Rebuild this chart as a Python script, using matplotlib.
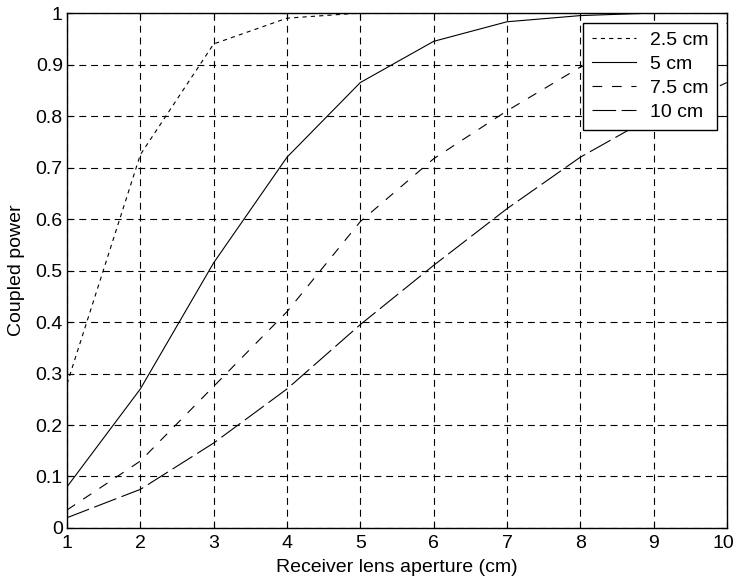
import matplotlib
matplotlib.use("Agg")
import matplotlib.pyplot as plt
from matplotlib.transforms import ScaledTranslation

plt.rcParams['font.family'] = ['Liberation Sans', 'DejaVu Sans']
plt.rcParams['lines.scale_dashes'] = False

aperture = [1, 2, 3, 4, 5, 6, 7, 8, 9, 10]
p_25 = [0.28, 0.725, 0.94, 0.99, 1.0, 1.0, 1.0, 1.0, 1.0, 1.0]
p_50 = [0.08, 0.27, 0.515, 0.72, 0.865, 0.945, 0.983, 0.995, 1.0, 1.0]
p_75 = [0.035, 0.13, 0.275, 0.42, 0.595, 0.717, 0.81, 0.895, 0.95, 0.98]
p_100 = [0.02, 0.075, 0.165, 0.27, 0.395, 0.51, 0.62, 0.72, 0.80, 0.865]
labels = ["2.5 cm", "5 cm", "7.5 cm", "10 cm"]

fs = 14
fig = plt.figure(figsize=(7.35, 5.84), dpi=100)
ax = fig.add_axes([0.0912, 0.0959, 0.8978, 0.8818])

lw = 0.8
ax.plot(aperture, p_25, color="black", lw=lw, dashes=(3, 3), label=labels[0])
ax.plot(aperture, p_50, color="black", lw=lw, ls="-", label=labels[1])
ax.plot(aperture, p_75, color="black", lw=lw, dashes=(7, 7), label=labels[2])
ax.plot(aperture, p_100, color="black", lw=lw, dashes=(17, 4), label=labels[3])

ax.set_xlim(1, 10)
ax.set_ylim(0, 1)
ax.set_xticks(range(1, 11))
ax.set_yticks([i / 10 for i in range(11)])
ax.set_yticklabels(["0", "0.1", "0.2", "0.3", "0.4", "0.5", "0.6", "0.7", "0.8", "0.9", "1"])
ax.grid(True, color="black", lw=0.8, dashes=(5, 3.5))
ax.tick_params(direction="in", length=4, labelsize=fs, top=True, right=True, color="black")
ax.tick_params(axis="x", pad=5)
ax.tick_params(axis="y", pad=3)
for s in ax.spines.values():
    s.set_linewidth(1.0)

# keep the "10" inside the figure edge
last = ax.get_xticklabels()[-1]
last.set_transform(last.get_transform() + ScaledTranslation(-4 / 100, 0, fig.dpi_scale_trans))

ax.set_xlabel("Receiver lens aperture (cm)", fontsize=fs, labelpad=5)
ax.set_ylabel("Coupled power", fontsize=fs, labelpad=8)

leg = ax.legend(loc="upper right", fontsize=fs, fancybox=False, framealpha=1,
                edgecolor="black", handlelength=2.3, borderpad=0.45, labelspacing=0.33,
                borderaxespad=0.5, handletextpad=0.7)
leg.get_frame().set_linewidth(1.0)

fig.savefig("out.png", dpi=100)
